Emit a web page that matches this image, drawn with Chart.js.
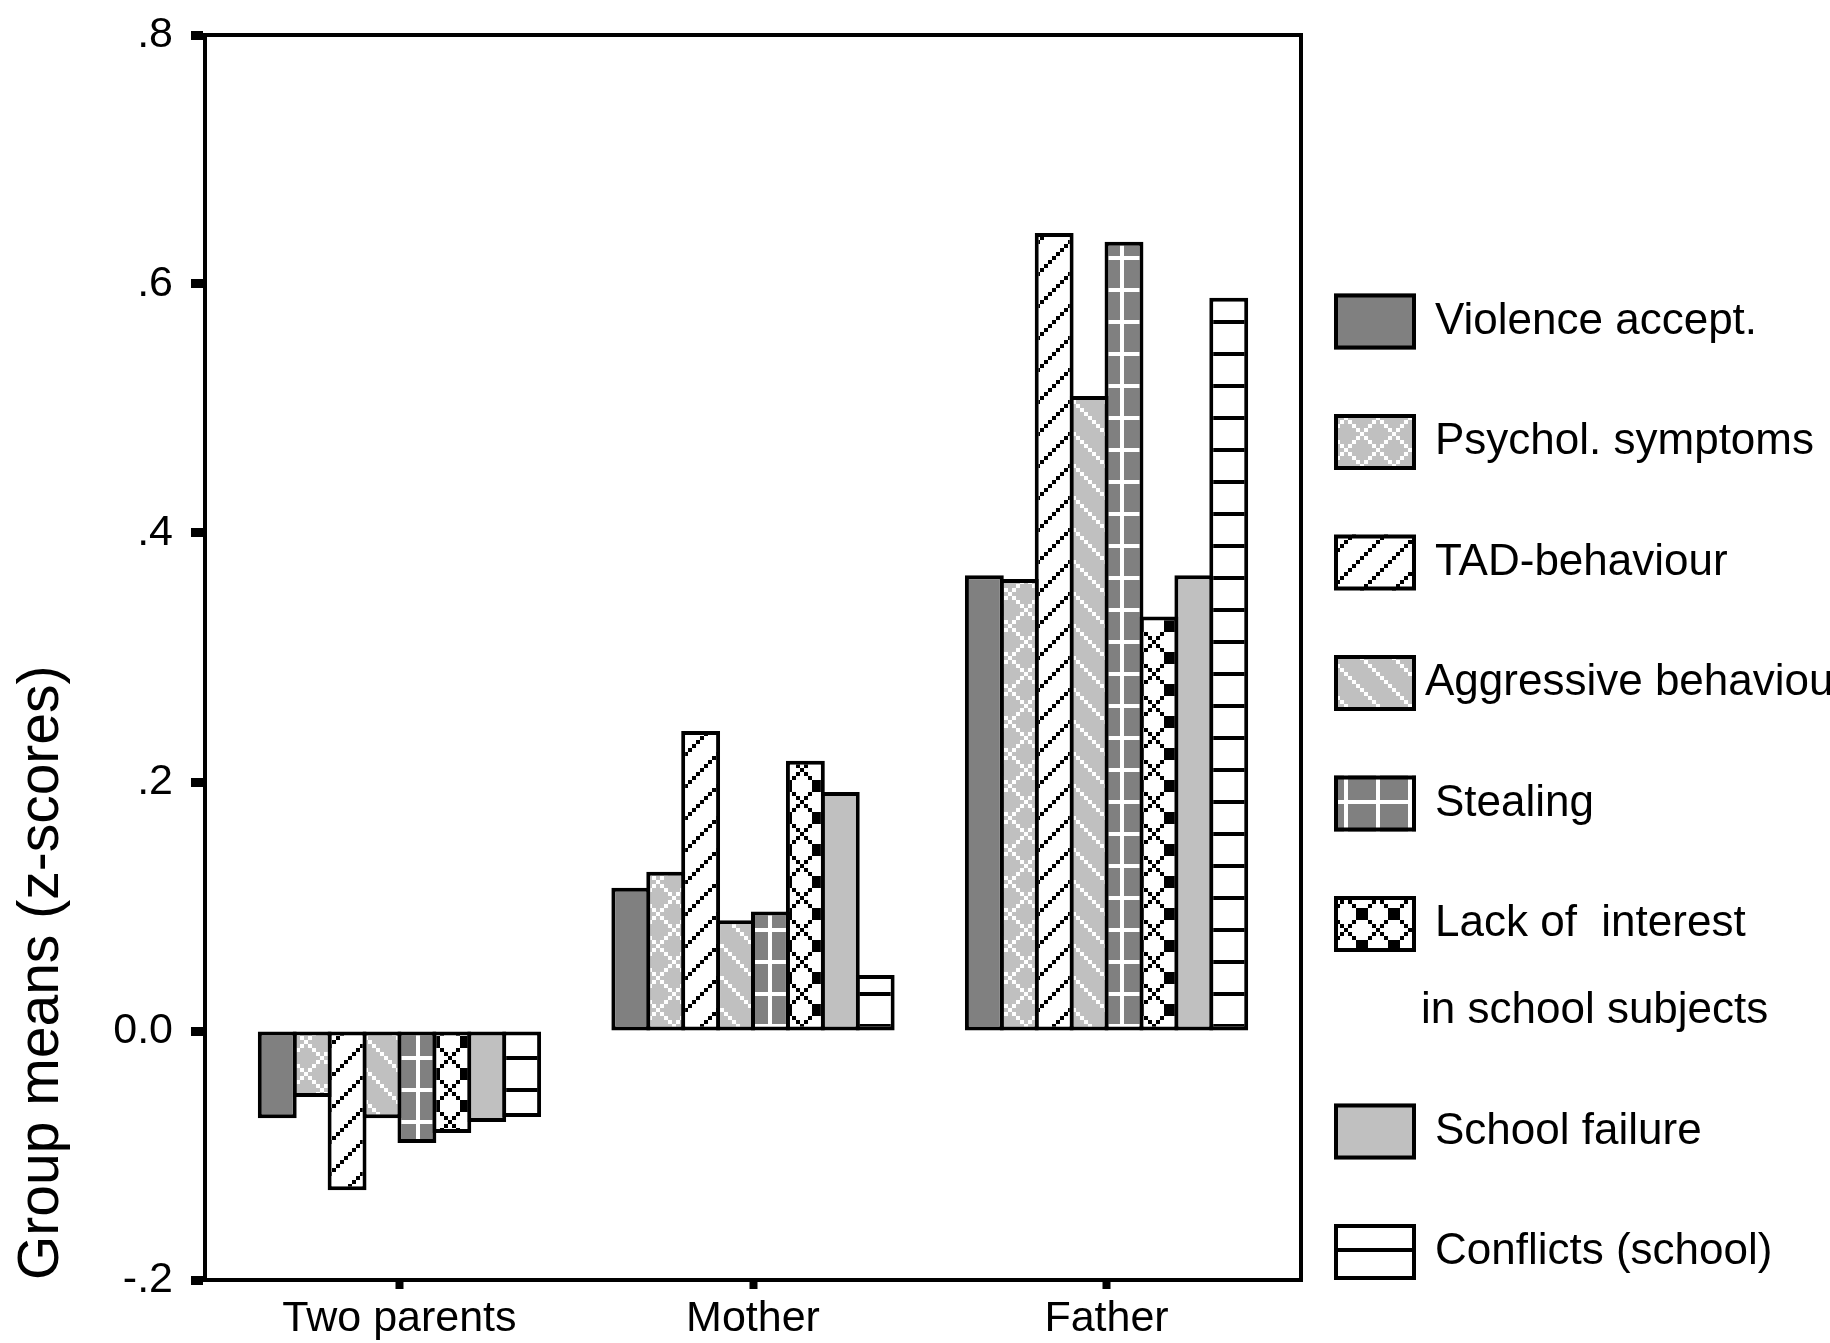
<!DOCTYPE html>
<html>
<head>
<meta charset="utf-8">
<script src="https://cdn.jsdelivr.net/npm/chart.js@4.4.1/dist/chart.umd.min.js"></script>
<style>
  body { margin: 0; background: #fff; }
  #wrap { width: 1830px; height: 1343px; }
</style>
</head>
<body>
<div id="wrap"><canvas id="chart" width="1830" height="1343"></canvas></div>
<script>
// groups on the x axis
let groups = ['Two parents', 'Mother', 'Father']

// series names (legend)
let seriesNames = [
    'Violence accept.',
    'Psychol. symptoms',
    'TAD-behaviour',
    'Aggressive behaviour',
    'Stealing',
    ['Lack of  interest', 'in school subjects'],
    'School failure',
    'Conflicts (school)'
]

// group means (z-scores), one value per group
let violence = [-0.070, 0.115, 0.366]
let psychol = [-0.053, 0.128, 0.363]
let tad = [-0.128, 0.241, 0.641]
let aggressive = [-0.070, 0.089, 0.510]
let stealing = [-0.090, 0.096, 0.634]
let lackInterest = [-0.082, 0.217, 0.333]
let schoolFailure = [-0.073, 0.192, 0.366]
let conflicts = [-0.069, 0.045, 0.589]

let yTickLabels = ['-.2', '0.0', '.2', '.4', '.6', '.8']

const ctx = document.getElementById('chart').getContext('2d')

// 8x8 bitmap patterns, each bit drawn as a 4px block
function makePattern(bg, fg, test) {
    let c = document.createElement('canvas')
    c.width = 32
    c.height = 32
    let g = c.getContext('2d')
    g.fillStyle = bg
    g.fillRect(0, 0, 32, 32)
    g.fillStyle = fg
    for (let y = 0; y < 8; y++) {
        for (let x = 0; x < 8; x++) {
            if (test(x, y)) g.fillRect(x * 4, y * 4, 4, 4)
        }
    }
    return ctx.createPattern(c, 'repeat')
}

const DARK = '#808080'
const LIGHT = '#c0c0c0'

let lattice = (x, y) => (x + y) % 8 === 0 || (x - y + 8) % 8 === 0
let fills = [
    DARK,
    makePattern(LIGHT, '#fff', lattice),
    makePattern('#fff', '#000', (x, y) => (x + y) % 8 === 7),
    makePattern(LIGHT, '#fff', (x, y) => (x - y + 8) % 8 === 0),
    makePattern(DARK, '#fff', (x, y) => x === 0 || y === 0),
    makePattern('#fff', '#000', (x, y) => lattice(x, y) || (x === 3 && y === 4) || (x === 5 && y === 4) || (x === 4 && y === 3) || (x === 4 && y === 5)),
    LIGHT,
    makePattern('#fff', '#000', (x, y) => y === 0)
]

let values = [violence, psychol, tad, aggressive, stealing, lackInterest, schoolFailure, conflicts]

let datasets = values.map((v, i) => ({
    label: Array.isArray(seriesNames[i]) ? seriesNames[i].join(' ') : seriesNames[i],
    data: v,
    backgroundColor: fills[i],
    borderColor: '#000',
    borderWidth: 4,
    borderSkipped: false,
    categoryPercentage: 0.79,
    barPercentage: 1.114
}))

// box round the plot area
const frame = {
    id: 'frame',
    afterDatasetsDraw(chart) {
        let a = chart.chartArea
        let c = chart.ctx
        c.save()
        c.strokeStyle = '#000'
        c.lineWidth = 4
        c.strokeRect(a.left, a.top, a.right - a.left, a.bottom - a.top)
        c.restore()
    }
}

// legend on the right, drawn with the same fills
const sideLegend = {
    id: 'sideLegend',
    afterDraw(chart) {
        let a = chart.chartArea
        let c = chart.ctx
        let boxX = a.right + 33
        let boxW = 82
        let boxH = 56
        let pitch = 120.5
        let extra = 87
        let y = a.bottom - boxH / 2 - (7 * pitch + extra)
        c.save()
        c.font = '44px "Liberation Sans", Arial, sans-serif'
        c.textBaseline = 'middle'
        c.fillStyle = '#000'
        chart.data.datasets.forEach((ds, i) => {
            c.fillStyle = ds.backgroundColor
            c.fillRect(boxX, y - boxH / 2, boxW, boxH)
            c.strokeStyle = '#000'
            c.lineWidth = 4
            c.strokeRect(boxX + 2, y - boxH / 2 + 2, boxW - 4, boxH - 4)
            c.fillStyle = '#000'
            let name = seriesNames[i]
            if (Array.isArray(name)) {
                c.fillText(name[0], boxX + 101, y)
                c.fillText(name[1], boxX + 87, y + extra)
                y += extra
            } else {
                c.fillText(name, i === 3 ? boxX + 91 : boxX + 101, y)
            }
            y += pitch
        })
        c.restore()
    }
}

const myChart = new Chart(ctx, {
    type: 'bar',
    data: {
        labels: groups,
        datasets: datasets
    },
    options: {
        responsive: false,
        animation: false,
        devicePixelRatio: 1,
        layout: {
            padding: { left: 0, top: 35, right: 529, bottom: 0 }
        },
        plugins: {
            legend: { display: false },
            tooltip: { enabled: false }
        },
        scales: {
            x: {
                offset: true,
                afterBuildTicks: s => {
                    s._startValue = -0.55
                    s._valueRange = 3.1
                },
                afterFit: s => { s.height = 63 },
                border: { display: true, color: '#000', width: 4 },
                grid: {
                    offset: false,
                    drawOnChartArea: false,
                    color: '#000',
                    tickColor: '#000',
                    tickLength: 9,
                    tickWidth: 8
                },
                ticks: {
                    color: '#000',
                    padding: 4,
                    font: { family: '"Liberation Sans", Arial, sans-serif', size: 43 }
                }
            },
            y: {
                min: -0.2,
                max: 0.8,
                afterFit: s => {
                    s.width = 205
                    s.paddingTop = 0
                    s.paddingBottom = 0
                },
                border: { display: true, color: '#000', width: 4 },
                grid: {
                    drawOnChartArea: false,
                    color: '#000',
                    tickColor: '#000',
                    tickLength: 14,
                    tickWidth: 9
                },
                ticks: {
                    stepSize: 0.2,
                    color: '#000',
                    padding: 18,
                    font: { family: '"Liberation Sans", Arial, sans-serif', size: 43 },
                    callback: (v, i) => yTickLabels[i]
                },
                title: {
                    display: true,
                    text: 'Group means (z-scores)',
                    align: 'start',
                    color: '#000',
                    padding: { top: 8, bottom: 0 },
                    font: { family: '"Liberation Sans", Arial, sans-serif', size: 57, weight: 'normal' }
                }
            }
        }
    },
    plugins: [frame, sideLegend]
})
</script>
</body>
</html>
